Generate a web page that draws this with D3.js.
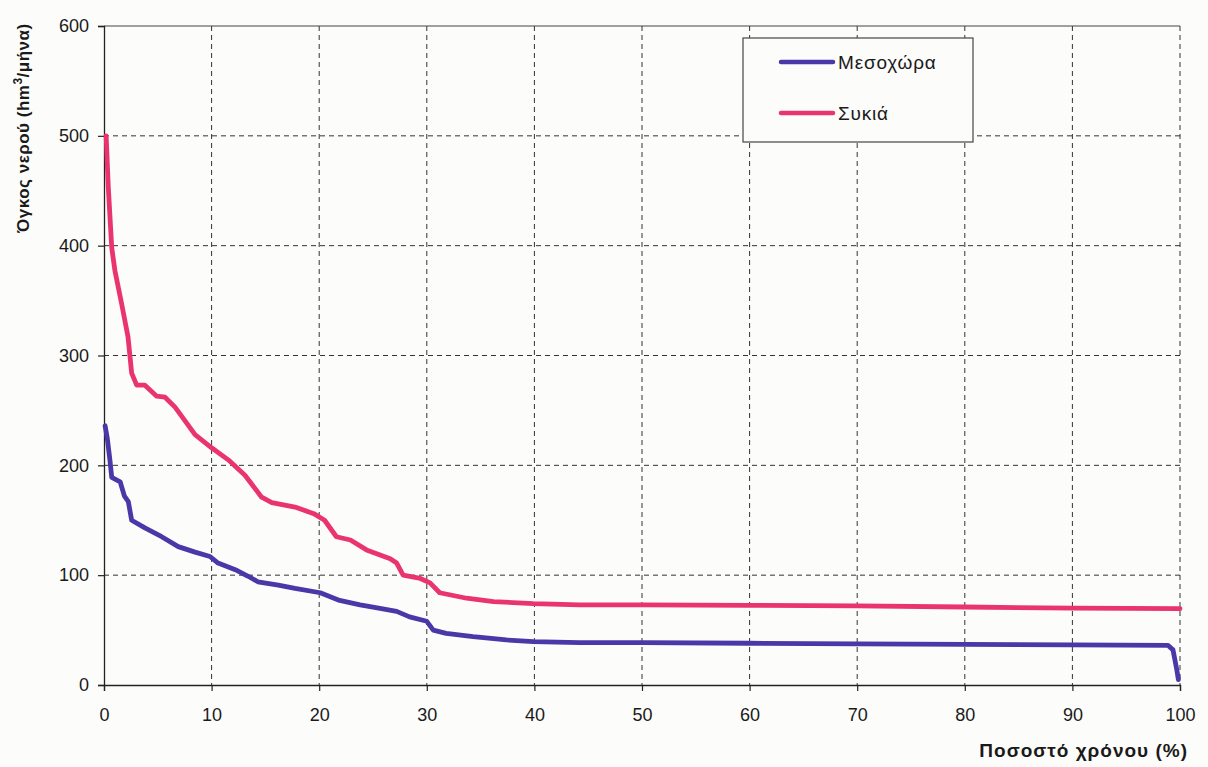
<!DOCTYPE html>
<html>
<head>
<meta charset="utf-8">
<script src="https://cdn.jsdelivr.net/npm/d3@7"></script>
<style>
  html, body { margin: 0; padding: 0; background: #fcfcfa; }
  svg { display: block; font-family: "Liberation Sans", Arial, sans-serif; }
</style>
</head>
<body>
<svg id="chart" width="1208" height="767"></svg>
<script>
// ---- data ----
const xTicks = [0, 10, 20, 30, 40, 50, 60, 70, 80, 90, 100];
const yTicks = [0, 100, 200, 300, 400, 500, 600];
const seriesNames = ["Μεσοχώρα", "Συκιά"];

const mesochoraPct = [0.1, 0.3, 0.56, 0.72, 1.5, 1.9, 2.26, 2.57, 3.8, 5.36, 6.9, 8.46, 9.85, 10.6, 12.2, 13.4, 14.3, 16.2, 17.75, 20.1, 21.9, 23.8, 25.0, 27.2, 28.4, 30.0, 30.6, 31.8, 34.3, 37.4, 39.9, 44.2, 50, 60, 70, 80, 90, 98.9, 99.35, 99.7, 99.85];
const mesochoraVal = [236, 225, 204, 189, 185, 172, 167, 150, 143, 135, 126, 121, 117, 111, 105, 99, 94, 91, 88, 84, 77, 73, 71, 67, 62, 58, 50, 47, 44, 41, 39.5, 38.5, 38.5, 38, 37.5, 37, 36.5, 36, 32, 14, 5];

const sykiaPct = [0.2, 0.4, 0.72, 1.02, 1.64, 2.23, 2.57, 3.04, 3.8, 4.9, 5.67, 6.6, 7.5, 8.46, 10.0, 11.55, 13.1, 14.65, 15.6, 17.75, 19.5, 20.5, 21.6, 22.9, 24.4, 26.6, 27.2, 27.8, 29.4, 30.3, 31.2, 33.7, 36.2, 39.9, 44.2, 50, 60, 70, 80, 90, 100];
const sykiaVal = [500, 453, 398, 377, 347, 317, 284, 273, 273, 263, 262, 253, 241, 228, 216, 205, 191, 171, 166, 162, 156, 150, 135, 132, 123, 115, 111, 100, 97, 93, 84, 79, 76, 74, 73, 73, 72.5, 72, 71, 70, 69.5];

// ---- layout ----
const svg = d3.select("#chart");
const x = d3.scaleLinear().domain([0, 100]).range([104, 1180]);
const y = d3.scaleLinear().domain([0, 600]).range([685, 26]);

const gridColor = "#333";

// horizontal gridlines
svg.append("g").selectAll("line")
  .data(yTicks.filter(v => v > 0 && v < 600))
  .join("line")
  .attr("x1", x(0)).attr("x2", x(100))
  .attr("y1", d => y(d)).attr("y2", d => y(d))
  .attr("stroke", gridColor).attr("stroke-width", 1)
  .attr("stroke-dasharray", "5,4");

// vertical gridlines
svg.append("g").selectAll("line")
  .data(xTicks.filter(v => v > 0))
  .join("line")
  .attr("x1", d => x(d)).attr("x2", d => x(d))
  .attr("y1", y(600)).attr("y2", y(0))
  .attr("stroke", gridColor).attr("stroke-width", 1)
  .attr("stroke-dasharray", "5,4");

// top border
svg.append("line")
  .attr("x1", x(0)).attr("x2", x(100))
  .attr("y1", y(600)).attr("y2", y(600))
  .attr("stroke", "#444").attr("stroke-width", 1.2);

// axes
const yAxis = svg.append("g")
  .attr("transform", `translate(${x(0)},0)`)
  .call(d3.axisLeft(y).tickValues(yTicks).tickSize(6).tickPadding(9).tickFormat(d3.format("d")));
const xAxis = svg.append("g")
  .attr("transform", `translate(0,${y(0)})`)
  .call(d3.axisBottom(x).tickValues(xTicks).tickSize(6).tickPadding(17).tickFormat(d3.format("d")));

[yAxis, xAxis].forEach(g => {
  g.select(".domain").attr("stroke", "#222").attr("stroke-width", 1.3);
  g.selectAll(".tick line").attr("stroke", "#222").attr("stroke-width", 1.2);
  g.selectAll(".tick text").attr("fill", "#1a1a1a").style("font-size", "18px")
    .style("font-family", "'Liberation Sans', Arial, sans-serif");
});

// series lines
const colors = ["#4a37a8", "#ea3470"];
const seriesData = [
  mesochoraPct.map((p, i) => [p, mesochoraVal[i]]),
  sykiaPct.map((p, i) => [p, sykiaVal[i]])
];
const line = d3.line().x(d => x(d[0])).y(d => y(d[1]));

seriesData.forEach((data, i) => {
  svg.append("path")
    .datum(data)
    .attr("d", line)
    .attr("fill", "none")
    .attr("stroke", colors[i])
    .attr("stroke-width", 4.8)
    .attr("stroke-linejoin", "round")
    .attr("stroke-linecap", "round");
});

// legend
const legend = svg.append("g");
legend.append("rect")
  .attr("x", 743).attr("y", 38).attr("width", 230).attr("height", 104)
  .attr("fill", "#fcfcfa").attr("stroke", "#444").attr("stroke-width", 1.2);
seriesNames.forEach((name, i) => {
  const ly = 62 + i * 51;
  legend.append("line")
    .attr("x1", 781).attr("x2", 833).attr("y1", ly).attr("y2", ly)
    .attr("stroke", colors[i]).attr("stroke-width", 4.5).attr("stroke-linecap", "round");
  legend.append("text")
    .attr("x", 838).attr("y", ly + 7)
    .attr("fill", "#1a1a1a").style("font-size", "19px").style("letter-spacing", "0.8px")
    .text(name);
});

// y axis title
const yt = svg.append("text")
  .attr("transform", `translate(29,128) rotate(-90)`)
  .attr("text-anchor", "middle")
  .style("font-size", "17px").style("font-weight", "bold").style("letter-spacing", "0.5px")
  .attr("fill", "#1a1a1a");
yt.append("tspan").text("Όγκος νερού (hm");
yt.append("tspan").attr("dy", -7).style("font-size", "12px").text("3");
yt.append("tspan").attr("dy", 7).text("/μήνα)");

// x axis title
svg.append("text")
  .attr("x", 1188).attr("y", 757)
  .attr("text-anchor", "end")
  .style("font-size", "19px").style("font-weight", "bold").style("letter-spacing", "1px")
  .attr("fill", "#1a1a1a")
  .text("Ποσοστό χρόνου (%)");
</script>
</body>
</html>
